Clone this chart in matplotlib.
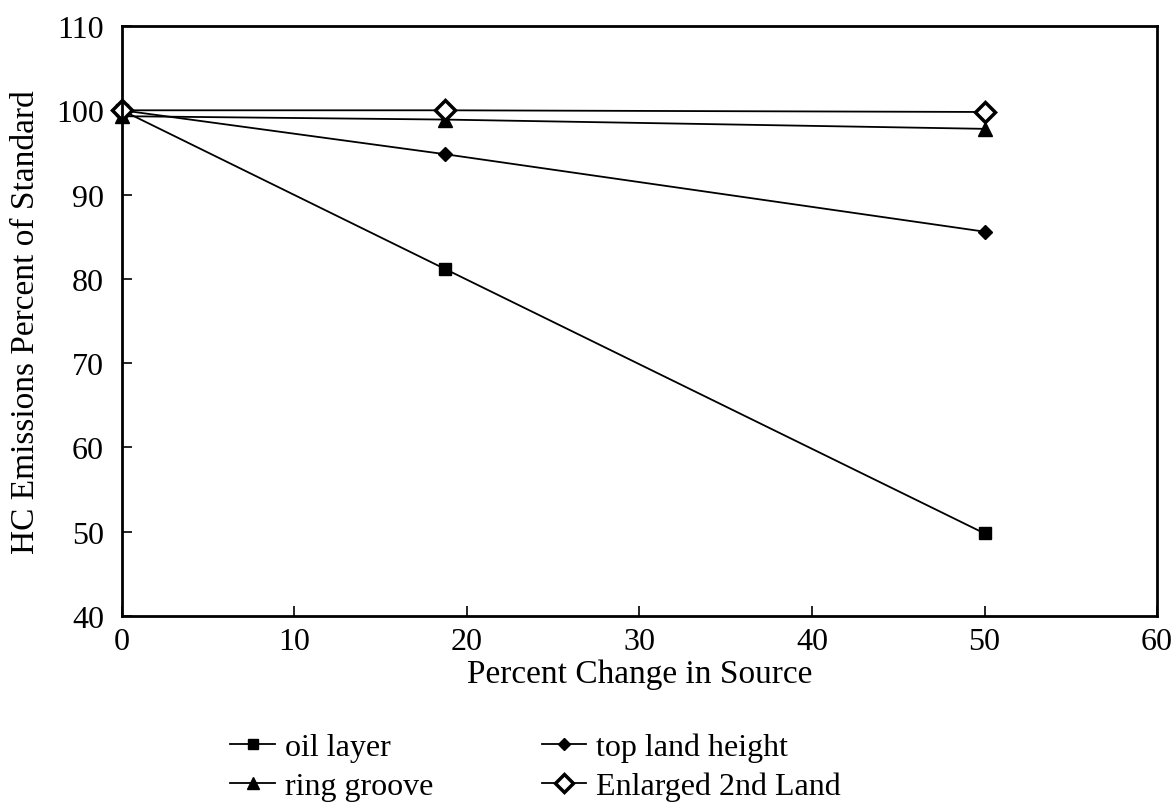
import numpy as np
import matplotlib.pyplot as plt

plt.rcParams['font.family'] = ['Liberation Serif', 'DejaVu Serif']

xVals = [0, 18.7, 50]
oilLayer = [100, 81.2, 49.8]
topLandHeight = [100, 94.8, 85.6]
ringGroove = [99.3, 98.9, 97.8]
enlarged2ndLand = [100, 100, 99.8]

xTicks = [0, 10, 20, 30, 40, 50, 60]
yTicks = [40, 50, 60, 70, 80, 90, 100, 110]

fig = plt.figure(figsize=(11.75, 8.04), dpi=100)
ax = fig.add_axes([0.1038, 0.2326, 0.8809, 0.7338])

lOil, = ax.plot(xVals, oilLayer, color='black', lw=1.3, marker='s', ms=8, clip_on=False)
lTop, = ax.plot(xVals, topLandHeight, color='black', lw=1.3, marker='D', ms=7, clip_on=False)
lRing, = ax.plot(xVals, ringGroove, color='black', lw=1.3, marker='^', ms=10, clip_on=False)
lEnl, = ax.plot(xVals, enlarged2ndLand, color='black', lw=1.3, marker='D', ms=10,
                mfc='white', mew=2.5, clip_on=False)

ax.set_xlim(0, 60)
ax.set_ylim(40, 110)
ax.set_xticks(xTicks)
ax.set_yticks(yTicks)
ax.tick_params(direction='in', length=7, width=1.2, labelsize=23)
ax.tick_params(axis='x', pad=8)
ax.tick_params(axis='y', pad=13)
for s in ax.spines.values():
    s.set_linewidth(2)

ax.set_xlabel('Percent Change in Source', fontsize=24, labelpad=2)
ax.set_ylabel('HC Emissions Percent of Standard', fontsize=24)
ax.yaxis.set_label_coords(-0.078, 0.5)

fig.legend([lOil, lRing, lTop, lEnl],
           ['oil layer', 'ring groove', 'top land height', 'Enlarged 2nd Land'],
           ncol=2, loc='upper left', bbox_to_anchor=(0.196, 0.088), frameon=False,
           fontsize=23, handlelength=1.4, handletextpad=0.3, columnspacing=3.4,
           labelspacing=0.3, markerscale=0.9, borderaxespad=0, borderpad=0)

fig.savefig('out.png', dpi=100)
